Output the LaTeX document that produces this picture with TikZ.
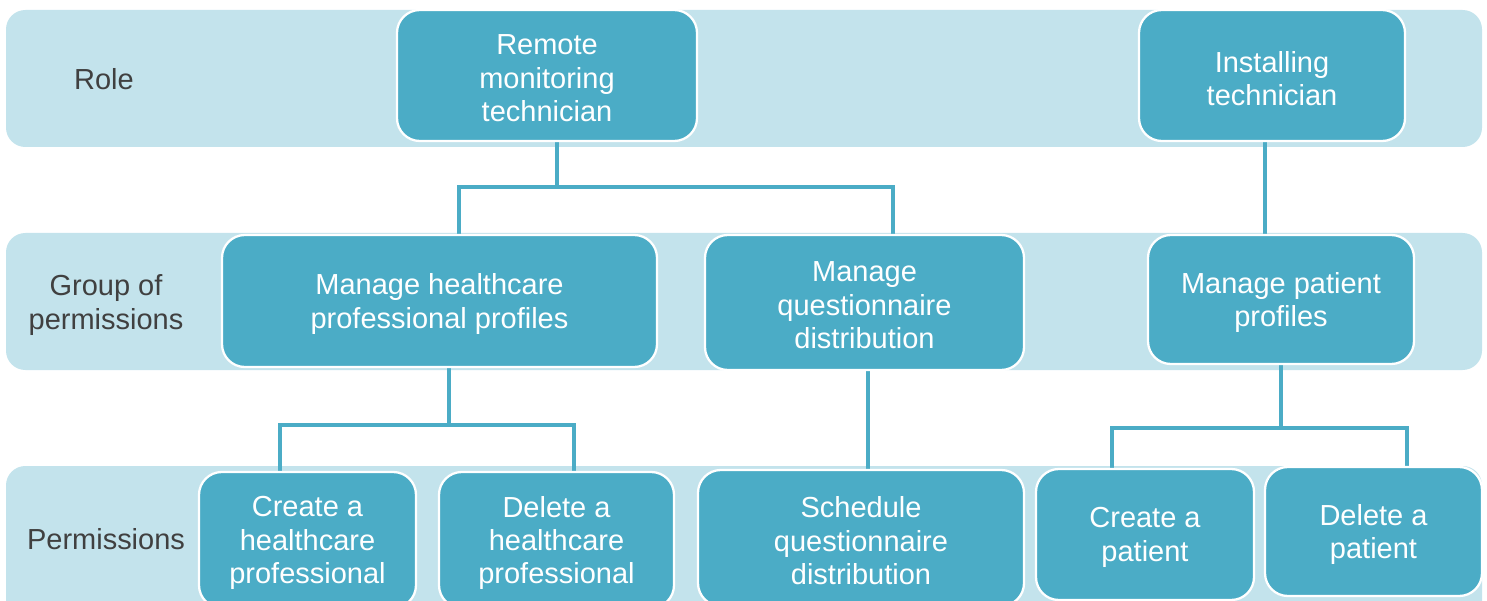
\documentclass[tikz,border=0pt]{standalone}
\usepackage{fontspec}
\setmainfont{Liberation Sans}
\definecolor{bandc}{HTML}{C3E3EC}
\definecolor{boxc}{HTML}{4BACC6}
\definecolor{txtc}{HTML}{404040}
\pgfdeclarelayer{bands}
\pgfdeclarelayer{links}
\pgfsetlayers{bands,links,main}
\tikzset{
  band/.style={fill=bandc, draw=none, rounded corners=11pt},
  box/.style={fill=boxc, draw=white, line width=1.3pt, rounded corners=13pt, inner sep=0pt},
  boxtext/.style={text=white, align=center, inner sep=0pt,
    font=\fontsize{16.5}{19}\selectfont},
  lbl/.style={text=txtc, align=center, font=\fontsize{16.5}{19}\selectfont},
  conn/.style={draw=boxc, line width=2.8pt, line join=miter}
}
\newcommand{\bx}[6]{\node[box, minimum width={(#4-#2)*0.02cm}, minimum height={(#5-#3)*0.02cm}] (#1) at ({(#2+#4)/2},{(#3+#5)/2}) {};
\node[boxtext] (#1-t) at ([yshift=-1.7pt]#1.center) {#6};}
\begin{document}
\begin{tikzpicture}[x=0.02cm, y=-0.02cm]
\useasboundingbox (0,0) rectangle (1487,601);
\clip (0,0) rectangle (1487,601);
% bands
\begin{pgfonlayer}{bands}
\path[band] (6,10) rectangle (1482,147);
\path[band] (6,233) rectangle (1482,370);
\path[band] (6,466) rectangle (1482,640);
\end{pgfonlayer}
% row labels
\node[lbl] (lrole) at (104,79) {Role};
\node[lbl] (lgroup) at (106,305) {Group of\\permissions};
\node[lbl] (lperm) at (106,539) {Permissions};
% boxes
\bx{rmt}{397}{10}{697}{141}{Remote\\monitoring\\technician}
\bx{it}{1139}{10}{1405}{141}{Installing\\technician}
\bx{mhpp}{222}{235}{657}{367}{Manage healthcare\\professional profiles}
\bx{mqd}{705}{235}{1024}{370}{Manage\\questionnaire\\distribution}
\bx{mpp}{1148}{235}{1414}{364}{Manage patient\\profiles}
\bx{chp}{199}{472}{416}{608}{Create a\\healthcare\\professional}
\bx{dhp}{439}{472}{674}{608}{Delete a\\healthcare\\professional}
\bx{sqd}{698}{470}{1024}{606}{Schedule\\questionnaire\\distribution}
\bx{cp}{1036}{469}{1254}{600}{Create a\\patient}
\bx{dp}{1265}{467}{1482}{596}{Delete a\\patient}
% connectors
\begin{pgfonlayer}{links}
\draw[conn] (557,0 |- rmt.south) -- (557,187);
\draw[conn] (459,0 |- mhpp.north) |- (893,187) -- (893,0 |- mqd.north);
\draw[conn] (1265,0 |- it.south) -- (1265,0 |- mpp.north);
\draw[conn] (449,0 |- mhpp.south) -- (449,425);
\draw[conn] (280,0 |- chp.north) |- (574,425) -- (574,0 |- dhp.north);
\draw[conn] (868,0 |- mqd.south) -- (868,0 |- sqd.north);
\draw[conn] (1281,0 |- mpp.south) -- (1281,428);
\draw[conn] (1112,0 |- cp.north) |- (1407,428) -- (1407,0 |- dp.north);
\end{pgfonlayer}
\end{tikzpicture}
\end{document}
